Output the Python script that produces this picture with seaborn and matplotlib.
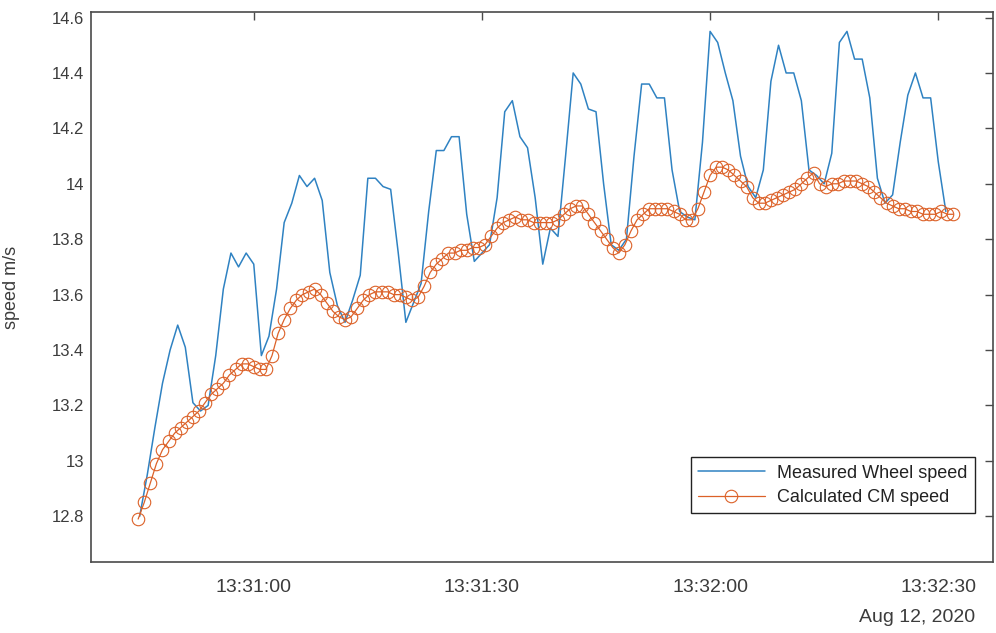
import numpy as np
import pandas as pd
import matplotlib
matplotlib.use("Agg")
import matplotlib.pyplot as plt
import matplotlib.dates as mdates
import seaborn as sns

# ---------------- data ----------------
wheel_start = "2020-08-12 13:30:45"
wheel_step_ms = 1000
wheel_speed = [
    12.80, 12.95, 13.12, 13.28, 13.40, 13.49, 13.41, 13.21, 13.18, 13.20,
    13.38, 13.62, 13.75, 13.70, 13.75, 13.71, 13.38, 13.45, 13.62, 13.86,
    13.93, 14.03, 13.99, 14.02, 13.94, 13.68, 13.56, 13.50, 13.58, 13.67,
    14.02, 14.02, 13.99, 13.98, 13.75, 13.50, 13.57, 13.64, 13.90, 14.12,
    14.12, 14.17, 14.17, 13.89, 13.72, 13.75, 13.78, 13.95, 14.26, 14.30,
    14.17, 14.13, 13.95, 13.71, 13.84, 13.81, 14.10, 14.40, 14.36, 14.27,
    14.26, 14.00, 13.78, 13.76, 13.80, 14.10, 14.36, 14.36, 14.31, 14.31,
    14.05, 13.90, 13.88, 13.87, 14.15, 14.55, 14.51, 14.40, 14.30, 14.10,
    13.99, 13.95, 14.05, 14.37, 14.50, 14.40, 14.40, 14.30, 14.05, 14.03,
    14.00, 14.11, 14.51, 14.55, 14.45, 14.45, 14.31, 14.02, 13.93, 13.96,
    14.15, 14.32, 14.40, 14.31, 14.31, 14.08, 13.90,
]

cm_start = "2020-08-12 13:30:44.8"
cm_step_ms = 800
cm_speed = [
    12.79, 12.85, 12.92, 12.99, 13.04, 13.07, 13.10, 13.12, 13.14, 13.16,
    13.18, 13.21, 13.24, 13.26, 13.28, 13.31, 13.33, 13.35, 13.35, 13.34,
    13.33, 13.33, 13.38, 13.46, 13.51, 13.55, 13.58, 13.60, 13.61, 13.62,
    13.60, 13.57, 13.54, 13.52, 13.51, 13.52, 13.55, 13.58, 13.60, 13.61,
    13.61, 13.61, 13.60, 13.60, 13.59, 13.58, 13.59, 13.63, 13.68, 13.71,
    13.73, 13.75, 13.75, 13.76, 13.76, 13.77, 13.77, 13.78, 13.81, 13.84,
    13.86, 13.87, 13.88, 13.87, 13.87, 13.86, 13.86, 13.86, 13.86, 13.87,
    13.89, 13.91, 13.92, 13.92, 13.89, 13.86, 13.83, 13.80, 13.77, 13.75,
    13.78, 13.83, 13.87, 13.89, 13.91, 13.91, 13.91, 13.91, 13.90, 13.89,
    13.87, 13.87, 13.91, 13.97, 14.03, 14.06, 14.06, 14.05, 14.03, 14.01,
    13.99, 13.95, 13.93, 13.93, 13.94, 13.95, 13.96, 13.97, 13.98, 14.00,
    14.02, 14.04, 14.00, 13.99, 14.00, 14.00, 14.01, 14.01, 14.01, 14.00,
    13.99, 13.97, 13.95, 13.93, 13.92, 13.91, 13.91, 13.90, 13.90, 13.89,
    13.89, 13.89, 13.90, 13.89, 13.89,
]

series_labels = ["Measured Wheel speed", "Calculated CM speed"]
x_tick_labels = ["13:31:00", "13:31:30", "13:32:00", "13:32:30"]
y_ticks = [12.8, 13.0, 13.2, 13.4, 13.6, 13.8, 14.0, 14.2, 14.4, 14.6]
date_label = "Aug 12, 2020"
y_label = "speed m/s"

# ---------------- frames ----------------
wheel_df = pd.DataFrame({
    "time": pd.date_range(wheel_start, periods=len(wheel_speed),
                          freq=pd.Timedelta(milliseconds=wheel_step_ms)),
    "speed": wheel_speed,
})
cm_df = pd.DataFrame({
    "time": pd.date_range(cm_start, periods=len(cm_speed),
                          freq=pd.Timedelta(milliseconds=cm_step_ms)),
    "speed": cm_speed,
})

# ---------------- style ----------------
sns.set_style("white")
plt.rcParams["font.family"] = ["Liberation Sans", "DejaVu Sans"]
text_col = "#3c3c3c"
axis_col = "#4a4a4a"

fig = plt.figure(figsize=(9.96, 6.33), dpi=100)
ax = fig.add_axes([91 / 996, 1 - 562 / 633, (993 - 91) / 996, (562 - 12) / 633])

blue = "#2f82c2"
orange = "#dc6128"

sns.lineplot(data=wheel_df, x="time", y="speed", ax=ax, color=blue,
             linewidth=1.1, label=series_labels[0], sort=False)
sns.lineplot(data=cm_df, x="time", y="speed", ax=ax, color=orange,
             linewidth=0.9, marker="o", markersize=9, markerfacecolor="none",
             markeredgecolor=orange, markeredgewidth=0.8,
             label=series_labels[1], sort=False)

# axes limits
day = "2020-08-12 "
ax.set_xlim(pd.Timestamp(day + "13:30:38.6"), pd.Timestamp(day + "13:32:37.2"))
ax.set_ylim(12.635, 14.62)

ax.set_xticks([pd.Timestamp(day + t) for t in x_tick_labels])
ax.xaxis.set_major_formatter(mdates.DateFormatter("%H:%M:%S"))
ax.set_yticks(y_ticks)
ax.set_yticklabels([f"{v:g}" for v in y_ticks])

ax.set_xlabel("")
ax.set_ylabel(y_label, fontsize=13, color=text_col)
ax.yaxis.set_label_coords(-0.079, 0.5)

ax.tick_params(axis="both", which="major", direction="in", length=6,
               width=1.0, colors=axis_col, labelcolor=text_col,
               top=True, right=True)
ax.tick_params(axis="x", labelsize=14, pad=12)
ax.tick_params(axis="y", labelsize=12, pad=5)
for s in ax.spines.values():
    s.set_visible(True)
    s.set_color(axis_col)
    s.set_linewidth(1.2)

fig.text(975 / 996, 1 - 618 / 633, date_label, ha="right", va="center",
         fontsize=14, color=text_col)

leg = ax.legend(loc="lower right", bbox_to_anchor=(0.98, 0.089), fontsize=13,
                frameon=True, fancybox=False, shadow=False, framealpha=1,
                edgecolor="#222222", handlelength=3.7, handletextpad=0.7,
                borderpad=0.4, labelspacing=0.4, borderaxespad=0)
leg.get_frame().set_linewidth(1.0)
for t in leg.get_texts():
    t.set_color("#222222")

ax.grid(False)
fig.savefig("out.png", dpi=100)
